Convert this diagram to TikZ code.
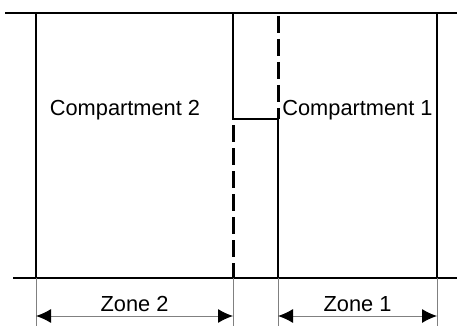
\documentclass[tikz,border=0pt]{standalone}
\usepackage{fontspec}
\setmainfont{Liberation Sans}
\usetikzlibrary{arrows.meta,calc}
\definecolor{grey1}{HTML}{808080}

\tikzset{
  wall/.style={line width=2pt,black},
  gap/.style={line width=3pt,black,dash pattern=on 17pt off 6pt},
  ext/.style={line width=1pt,grey1},
  dim/.style={line width=1pt,grey1,{Latex[length=15pt,width=14pt,black]}-{Latex[length=15pt,width=14pt,black]}},
  lab/.style={font=\fontsize{21.8}{26}\selectfont}
}

\begin{document}
\begin{tikzpicture}[x=1pt,y=-1pt]
\useasboundingbox (0,0) rectangle (457,326);

% floor and ceiling
\draw[wall] (5,13) -- (457,13);
\draw[wall] (13,278) -- (457,278);

% outer walls
\draw[wall] (36,13) -- (36,278);
\draw[wall] (437,13) -- (437,278);

% step between the compartments
\draw[wall] (233,13) -- (233,119) -- (278,119) -- (278,278);
\draw[gap] (278,16) -- (278,119);
\draw[gap] (233,125) -- (233,278);

% extension lines
\foreach \x in {36,233,278,437}
  \draw[ext] (\x,278) -- (\x,326);

\node[lab] (comp2) at (125,110) {Compartment 2};
\node[lab] (comp1) at (357.5,110) {Compartment 1};

% zones
\coordinate (z2a) at (36,316);
\coordinate (z2b) at (233,316);
\coordinate (z1a) at (278,316);
\coordinate (z1b) at (437,316);
\draw[dim] (z2a) -- (z2b);
\draw[dim] (z1a) -- (z1b);
\node[lab] (zone2) at ($(z2a)!0.5!(z2b)+(0,-12)$) {Zone 2};
\node[lab] (zone1) at ($(z1a)!0.5!(z1b)+(0,-12)$) {Zone 1};

\end{tikzpicture}
\end{document}
